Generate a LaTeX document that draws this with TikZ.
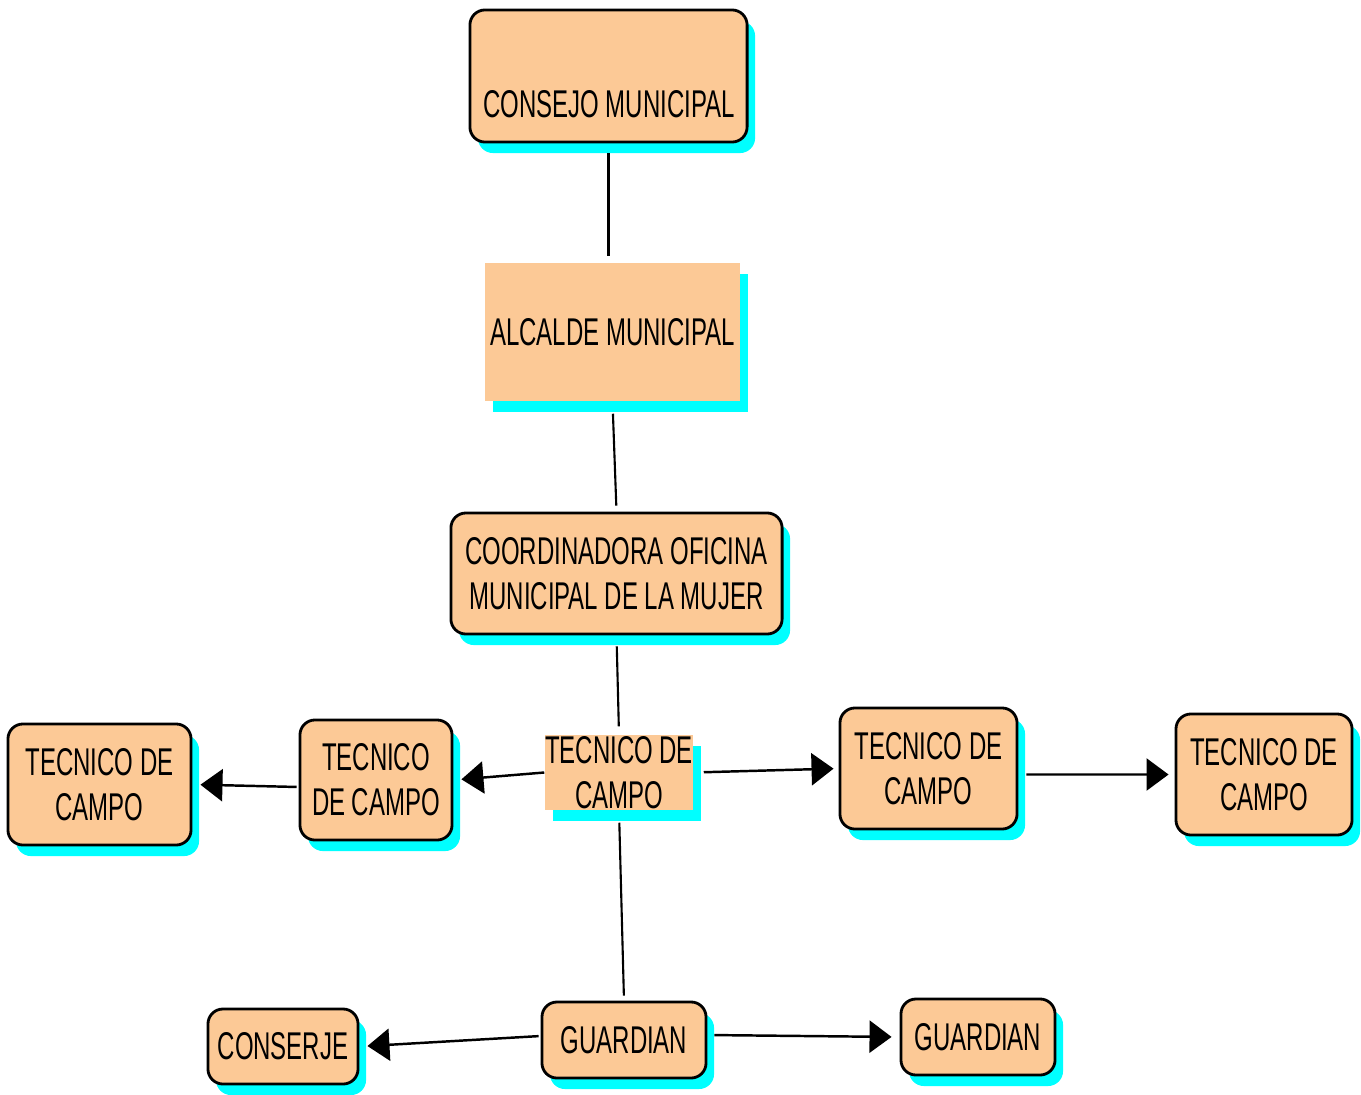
\documentclass[tikz,border=0pt]{standalone}
\usepackage{fontspec}
\setmainfont{Liberation Sans}[FakeStretch=0.62]
\usetikzlibrary{arrows.meta,shadows}
\definecolor{peach}{RGB}{252,201,150}
\definecolor{shadowcyan}{RGB}{0,255,255}
\tikzset{
  cshadow/.style={drop shadow={fill=shadowcyan,opacity=1,shadow xshift=0.08cm,shadow yshift=-0.11cm}},
  roundbox/.style={draw=black,line width=0.8pt,fill=peach,rounded corners=0.15cm,cshadow,
    align=center,inner sep=0pt,font=\fontsize{11}{12.8}\selectfont},
  flatbox/.style={fill=peach,cshadow,align=center,inner sep=0pt,font=\fontsize{11}{12.8}\selectfont},
  link/.style={line width=0.6pt},
  arr/.style={line width=0.7pt,-{Triangle[length=0.22cm,width=0.32cm]}}
}

\begin{document}
\begin{tikzpicture}[x=0.01cm,y=-0.01cm]
  %%%%% START %%%%%
  \useasboundingbox (0,0) rectangle (1361,1094);

  \node[roundbox,minimum width=2.77cm,minimum height=1.32cm] (consejo) at (608.5,76) {};
  \node[font=\fontsize{11}{12.8}\selectfont] (consejotxt) at (609,104) {CONSEJO MUNICIPAL};

  \node[flatbox,minimum width=2.55cm,minimum height=1.38cm] (alcalde) at (612.5,332) {ALCALDE MUNICIPAL};

  \node[roundbox,minimum width=3.31cm,minimum height=1.21cm] (coord) at (616.5,573.5) {COORDINADORA OFICINA\\MUNICIPAL DE LA MUJER};

  \node[flatbox,minimum width=1.48cm,minimum height=0.75cm] (tcentral) at (619,772.5) {TECNICO DE\\CAMPO};
  \node[roundbox,minimum width=1.52cm,minimum height=1.20cm] (tleft) at (376,780) {TECNICO\\DE CAMPO};
  \node[roundbox,minimum width=1.83cm,minimum height=1.21cm] (tfarleft) at (99.5,784.5) {TECNICO DE\\CAMPO};
  \node[roundbox,minimum width=1.77cm,minimum height=1.21cm] (tright) at (928.5,768.5) {TECNICO DE\\CAMPO};
  \node[roundbox,minimum width=1.76cm,minimum height=1.21cm] (tfarright) at (1264,774.5) {TECNICO DE\\CAMPO};

  \node[roundbox,minimum width=1.64cm,minimum height=0.76cm] (guardian) at (624,1040) {GUARDIAN};
  \node[roundbox,minimum width=1.50cm,minimum height=0.75cm] (conserje) at (283,1046.5) {CONSERJE};
  \node[roundbox,minimum width=1.54cm,minimum height=0.76cm] (guardianb) at (978,1037) {GUARDIAN};

  % vertical lines
  \draw[link,shorten <=0.1cm,shorten >=0.06cm] (consejo.south) -- (consejo.south |- alcalde.north);
  \draw[link,shorten <=0.12cm,shorten >=0.06cm] (alcalde.south) -- (coord.north);
  \draw[link,shorten <=0.11cm,shorten >=0.08cm] (coord.south) -- (tcentral.north);
  \draw[link,shorten <=0.12cm,shorten >=0.05cm] (tcentral.south) -- (guardian.north);

  % arrows
  \draw[arr,shorten >=0.08cm] (tcentral.west) -- (tleft.east);
  \draw[arr,shorten <=0.02cm,shorten >=0.08cm] ([yshift=-0.07cm]tleft.west) -- (tfarleft.east);
  \draw[arr,shorten <=0.1cm,shorten >=0.05cm] (tcentral.east) -- (tright.west);
  \draw[arr,shorten <=0.08cm,shorten >=0.06cm] ([yshift=-0.06cm]tright.east) -- (tfarright.west);
  \draw[arr,shorten <=0.02cm,shorten >=0.08cm] ([yshift=0.04cm]guardian.west) -- (conserje.east);
  \draw[arr,shorten <=0.07cm,shorten >=0.08cm] ([yshift=0.05cm]guardian.east) -- (guardianb.west);
  %%%%% END %%%%%
\end{tikzpicture}
\end{document}
